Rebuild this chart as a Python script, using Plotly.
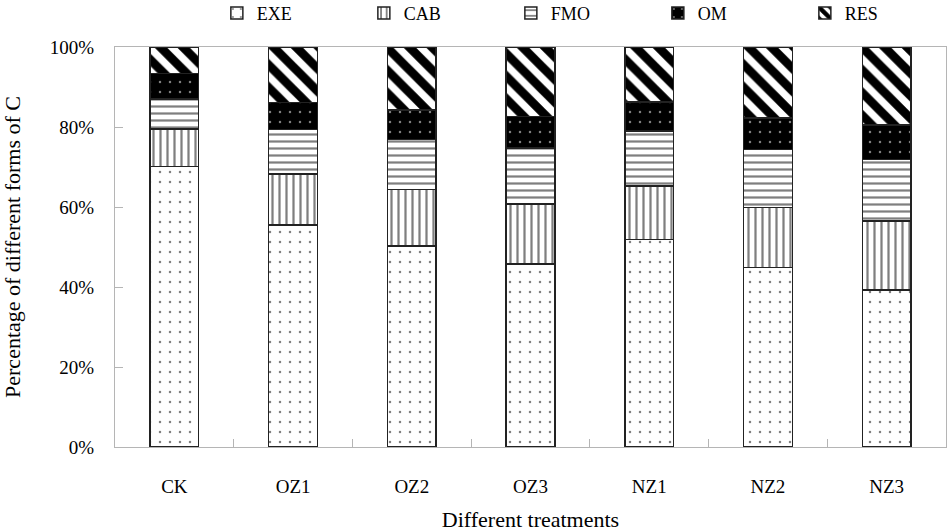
import plotly.graph_objects as go

# ------------------------
# Data (percent of C in each form)
# ------------------------

treatments = ["CK", "OZ1", "OZ2", "OZ3", "NZ1", "NZ2", "NZ3"]

exe = [70.1, 55.5, 50.3, 45.8, 51.9, 44.9, 39.2]
cab = [9.4, 12.8, 14.1, 14.9, 13.4, 15.0, 17.3]
fmo = [7.5, 11.1, 12.5, 14.1, 13.7, 14.5, 15.4]
om = [6.4, 6.7, 7.4, 7.8, 7.3, 7.9, 8.6]
res = [6.6, 13.9, 15.7, 17.4, 13.7, 17.7, 19.5]

y_ticks = [0, 20, 40, 60, 80, 100]
y_tick_labels = ["0%", "20%", "40%", "60%", "80%", "100%"]

# ------------------------
# Series styles
# ------------------------

series = [
    ("EXE", exe, dict(shape=".", fgcolor="#000000", bgcolor="white", size=10, solidity=0.05)),
    ("CAB", cab, dict(shape="|", fgcolor="#000000", bgcolor="white", size=7, solidity=0.32)),
    ("FMO", fmo, dict(shape="-", fgcolor="#000000", bgcolor="white", size=7, solidity=0.32)),
    ("OM", om, dict(shape=".", fgcolor="white", bgcolor="#000000", size=10, solidity=0.05)),
    ("RES", res, dict(shape="\\", fgcolor="#000000", fgopacity=1, bgcolor="white", size=16, solidity=0.55)),
]

fig = go.Figure()

for name, values, pattern in series:
    fig.add_trace(
        go.Bar(
            x=treatments,
            y=values,
            name=name,
            marker=dict(
                color="white",
                pattern=pattern,
                line=dict(color="#222222", width=1.5),
            ),
        )
    )

axis_font = dict(family="Liberation Serif", size=19, color="black")

fig.update_layout(
    barmode="stack",
    bargap=0.59,
    width=947,
    height=532,
    margin=dict(l=115, r=1, t=47, b=85),
    plot_bgcolor="white",
    paper_bgcolor="white",
    font=dict(family="Liberation Serif", size=18, color="black"),
    legend=dict(
        orientation="h",
        xref="container",
        x=0.229,
        xanchor="left",
        yref="container",
        y=0.975,
        yanchor="middle",
        entrywidth=102,
        font=dict(family="Liberation Serif", size=18),
        traceorder="normal",
    ),
    xaxis=dict(
        title=dict(text="Different treatments", font=dict(family="Liberation Serif", size=22), standoff=20),
        automargin=False,
        showline=True,
        linecolor="#b5b5b5",
        linewidth=1,
        mirror=True,
        ticks="inside",
        tickson="boundaries",
        ticklen=8,
        tickcolor="#b5b5b5",
        tickfont=axis_font,
        ticklabelstandoff=22,
        showgrid=False,
    ),
    yaxis=dict(
        automargin=False,
        range=[0, 100],
        tickvals=y_ticks,
        ticktext=y_tick_labels,
        showline=True,
        linecolor="#b5b5b5",
        linewidth=1,
        mirror=True,
        ticks="inside",
        ticklen=8,
        tickcolor="#b5b5b5",
        tickfont=axis_font,
        ticklabelstandoff=16,
        showgrid=False,
        zeroline=False,
    ),
    annotations=[
        dict(
            text="Percentage of different forms of C",
            textangle=-90,
            xref="paper",
            yref="paper",
            x=-0.124,
            y=0.5,
            xanchor="center",
            yanchor="middle",
            showarrow=False,
            font=dict(family="Liberation Serif", size=22),
        )
    ],
)

# page body has a default 8px margin; drop it so the figure sits at 0,0
fig.write_html(
    "out.html",
    config={"displayModeBar": False},
    post_script="document.body.style.margin='0';",
)
